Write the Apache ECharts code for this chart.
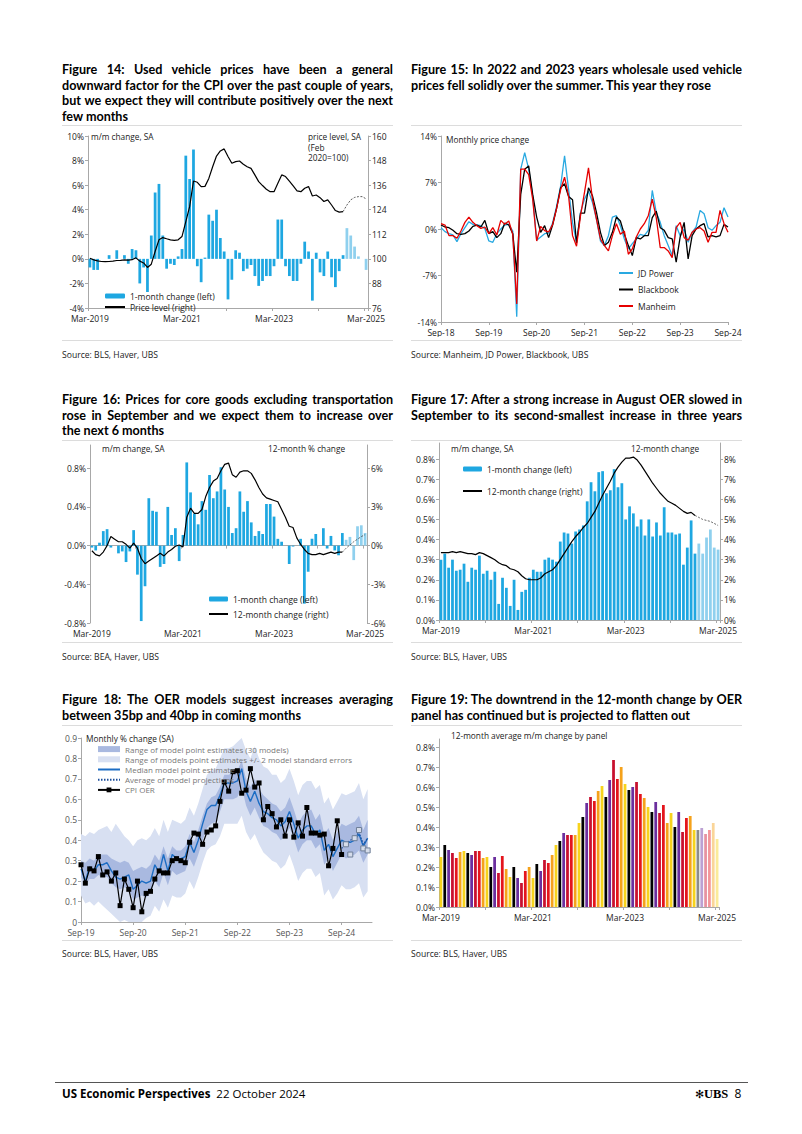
<!DOCTYPE html>
<html><head><meta charset="utf-8">
<script src="https://cdn.jsdelivr.net/npm/echarts@6/dist/echarts.min.js"></script>
<style>
html,body{margin:0;padding:0;background:#fff;}
body{width:802px;height:1134px;position:relative;overflow:hidden;font-family:'Open Sans',sans-serif;color:#000;}
.title{position:absolute;font-family:Lato,'Open Sans',sans-serif;font-weight:700;font-size:12.6px;line-height:15.6px;width:331px;}
.title div{white-space:nowrap;text-align:justify;text-align-last:justify;}
.title div.last{text-align:left;text-align-last:left;}
.sep{position:absolute;height:1px;background:#dcdcdc;}
.src{position:absolute;font-size:8.6px;color:#222;}
.ch{position:absolute;}
.note{position:absolute;font-size:8.3px;color:#222;line-height:10.5px;white-space:nowrap;}
</style></head>
<body>
<div class="title" style="left:62px;top:62px;"><div>Figure 14: Used vehicle prices have been a general</div><div>downward factor for the CPI over the past couple of years,</div><div>but we expect they will contribute positively over the next</div><div class="last">few months</div></div>
<div class="title" style="left:411px;top:62px;"><div>Figure 15: In 2022 and 2023 years wholesale used vehicle</div><div class="last">prices fell solidly over the summer. This year they rose</div></div>
<div class="sep" style="left:62px;top:125px;width:331px"></div>
<div class="sep" style="left:411px;top:125px;width:331px"></div>
<div class="sep" style="left:62px;top:340px;width:331px"></div>
<div class="sep" style="left:411px;top:340px;width:331px"></div>
<div class="src" style="left:62px;top:349px;">Source: BLS, Haver, UBS</div>
<div class="src" style="left:411px;top:349px;">Source: Manheim, JD Power, Blackbook, UBS</div>

<div class="title" style="left:62px;top:392px;"><div>Figure 16: Prices for core goods excluding transportation</div><div>rose in September and we expect them to increase over</div><div class="last">the next 6 months</div></div>
<div class="title" style="left:411px;top:392px;"><div>Figure 17: After a strong increase in August OER slowed in</div><div>September to its second-smallest increase in three years</div></div>
<div class="sep" style="left:62px;top:440px;width:331px"></div>
<div class="sep" style="left:411px;top:440px;width:331px"></div>
<div class="sep" style="left:62px;top:642px;width:331px"></div>
<div class="sep" style="left:411px;top:642px;width:331px"></div>
<div class="src" style="left:62px;top:651px;">Source: BEA, Haver, UBS</div>
<div class="src" style="left:411px;top:651px;">Source: BLS, Haver, UBS</div>

<div class="title" style="left:62px;top:692px;"><div>Figure 18: The OER models suggest increases averaging</div><div class="last">between 35bp and 40bp in coming months</div></div>
<div class="title" style="left:411px;top:692px;"><div>Figure 19: The downtrend in the 12-month change by OER</div><div class="last">panel has continued but is projected to flatten out</div></div>
<div class="sep" style="left:62px;top:725px;width:331px"></div>
<div class="sep" style="left:411px;top:725px;width:331px"></div>
<div class="sep" style="left:62px;top:940px;width:331px"></div>
<div class="sep" style="left:411px;top:940px;width:331px"></div>
<div class="src" style="left:62px;top:948px;">Source: BLS, Haver, UBS</div>
<div class="src" style="left:411px;top:948px;">Source: BLS, Haver, UBS</div>

<div class="ch" id="c14" style="left:55px;top:127px;width:340px;height:210px"></div>
<div class="ch" id="c15" style="left:408px;top:127px;width:340px;height:210px"></div>
<div class="ch" id="c16" style="left:55px;top:440px;width:340px;height:200px"></div>
<div class="ch" id="c17" style="left:408px;top:440px;width:340px;height:200px"></div>
<div class="ch" id="c18" style="left:55px;top:725px;width:340px;height:215px"></div>
<div class="ch" id="c19" style="left:408px;top:725px;width:340px;height:215px"></div>

<div class="note" style="left:91px;top:132px;">m/m change, SA</div>
<div class="note" style="left:308px;top:132px;">price level, SA<br>(Feb<br>2020=100)</div>
<div class="note" style="left:446px;top:135px;">Monthly price change</div>
<div class="note" style="left:102px;top:444px;">m/m change, SA</div>
<div class="note" style="left:268px;top:444px;">12-month % change</div>
<div class="note" style="left:451px;top:444px;">m/m change, SA</div>
<div class="note" style="left:631px;top:444px;">12-month change</div>
<div class="note" style="left:86px;top:734px;">Monthly % change (SA)</div>
<div class="note" style="left:451px;top:731px;">12-month average m/m change by panel</div>

<div style="position:absolute;left:55px;top:1082px;width:693px;height:1px;background:#555"></div>
<div style="position:absolute;left:62px;top:1086px;font-size:11.5px;white-space:nowrap;"><b>US Economic Perspectives</b>&nbsp;&nbsp;22 October 2024</div>
<div style="position:absolute;left:695px;top:1085px;font-size:12px;white-space:nowrap;"><span style="font-size:11px">&#10043;</span><b style="font-family:'Liberation Serif',serif;font-size:12.5px">UBS</b>&nbsp;&nbsp;8</div>

<script>
// ---------- DATA ----------
// Figure 14: used vehicles CPI, Mar-2019 .. Mar-2025 (last 6 = projection)
const usedMoM = [-0.7,-0.9,-0.9,0.0,0.0,0.3,0.0,0.7,0.0,0.3,
 -0.4,0.8,0.7,-2.0,-0.7,-2.7,1.9,5.4,6.1,1.9,
 -0.8,-0.4,-0.5,0.2,0.8,8.4,6.5,8.9,-0.6,-1.9,
 0.1,3.6,3.1,4.0,1.7,0.6,-3.3,-1.7,0.7,0.5,
 -1.0,-0.8,-0.5,-1.4,-2.2,-1.8,-1.4,-1.4,-0.6,3.2,
 3.2,-0.6,-1.4,-1.8,-1.8,-0.4,1.4,0.6,-3.4,0.5,
 -1.1,-1.4,0.6,-1.5,-2.3,-1.0,0.3,2.5,1.9,1.0,
 0.2,0.0,-0.9];
const usedLevel = [100.3,99.5,99.0,98.7,98.6,98.7,98.9,99.2,99.3,99.5,
 99.4,99.6,100.5,98.9,98.0,95.8,97.4,103.6,109.3,110.4,
 109.8,109.3,109.0,109.3,110.9,118.2,125.5,138.0,137.4,135.3,
 135.4,139.3,145.0,150.2,152.7,153.7,150.0,146.7,147.5,147.8,
 146.2,145.0,144.2,141.0,137.7,135.8,134.0,132.8,132.8,136.9,
 141.0,140.2,138.0,135.6,133.2,132.8,134.5,135.3,130.7,131.2,
 129.9,128.0,128.8,126.3,123.6,122.8,123.1];
const usedLevelProj = [126.3,128.8,130.0,130.4,130.4,129.3];

// Figure 15: wholesale used vehicle prices, Sep-18 .. Sep-24
const jdPower = [0.2,-0.4,-0.7,-0.9,-1.9,-0.7,0.2,1.1,0.7,0.6,
 0.5,0.05,-1.8,-2.0,-0.7,0.0,0.6,0.7,-0.3,-13.2,
 9.0,11.5,9.0,5.0,-1.7,-1.2,-0.7,-0.6,0.9,3.4,
 6.4,11.0,6.0,1.0,-2.0,2.5,4.5,5.7,4.0,1.5,
 -1.8,-2.5,-1.0,1.8,2.0,0.5,-1.5,-3.0,-2.2,-1.5,
 -0.8,-1.0,-0.2,5.8,2.5,1.0,-1.0,-2.5,-4.0,0.5,
 -1.0,0.0,-2.0,-0.5,0.3,2.8,2.3,0.2,-0.2,0.5,
 1.0,3.2,1.8];
const blackbook = [0.6,0.3,0.2,-0.2,-0.7,-0.8,-0.7,-0.3,0.4,0.6,
 0.3,1.3,-0.7,-0.4,-1.3,-0.7,0.9,0.6,-0.7,-6.5,
 5.2,9.0,9.5,5.2,1.8,-0.5,0.5,-1.3,0.6,3.1,
 6.2,6.8,4.9,4.4,-2.1,2.4,2.4,6.2,5.0,2.5,
 -0.5,-2.5,-2.0,-0.5,1.8,1.2,-0.8,-2.5,-4.0,-1.3,
 -1.5,-1.0,-1.0,1.7,2.7,0.2,-0.2,-1.3,-1.5,-5.0,
 -1.2,1.0,-4.5,-1.0,0.0,0.5,0.8,-1.2,-1.0,-1.2,
 -1.0,0.7,0.3];
const manheim = [0.8,0.6,-1.0,-1.0,-1.4,-0.3,1.0,1.8,1.0,0.5,
 0.1,0.3,-0.7,0.2,-0.9,1.3,0.7,1.2,-0.8,-11.3,
 9.0,9.0,8.2,4.5,-1.8,0.4,-0.25,-0.45,0.65,3.1,
 5.9,7.8,5.0,-1.0,-2.6,2.0,5.5,9.2,4.5,1.5,
 -1.5,-2.5,-3.3,-1.0,0.8,-0.8,-0.3,-3.8,-3.0,-1.2,
 0.0,0.8,2.0,4.5,1.7,-2.8,-2.8,-3.3,-4.3,0.2,
 1.0,-1.3,-1.7,-0.5,0.0,0.2,-0.3,-2.0,-0.5,-0.5,
 2.8,0.8,-0.5];

// Figure 16: core goods ex transportation, Mar-2019 .. Mar-2025
const coreGoodsMoM = [-0.02,-0.05,0.03,0.15,0.17,-0.02,0.0,-0.08,-0.06,-0.17,
 -0.06,0.16,-0.30,-0.78,-0.42,0.49,0.36,0.35,-0.22,-0.19,
 0.40,0.11,0.18,-0.16,0.11,0.86,0.55,0.33,0.22,0.46,
 0.37,0.73,0.49,0.56,0.81,0.58,0.40,0.13,0.18,0.56,
 0.35,0.46,0.24,0.10,0.15,0.12,0.43,0.43,0.30,0.07,
 0.04,0.0,-0.19,-0.01,0.0,0.07,-0.60,-0.27,0.07,0.12,
 0.0,0.18,-0.03,0.10,-0.05,-0.10,0.13,0.06,0.09,-0.15,
 0.20,0.21,0.13];
const coreGoods12m = [-0.4,-0.7,-0.8,-0.5,0.0,0.7,0.5,0.3,0.3,0.1,
 -0.2,0.2,-0.2,-1.0,-1.4,-1.2,-1.0,-0.8,-0.6,-0.8,
 -0.5,-0.3,-0.05,0.05,-0.1,2.2,2.9,2.5,2.5,2.8,
 3.8,4.5,5.0,5.2,5.8,6.3,6.4,5.5,5.3,5.7,
 5.8,5.8,5.6,5.1,4.5,4.0,3.7,3.6,3.5,3.4,
 2.8,2.2,1.5,1.4,0.6,0.1,-0.3,-0.6,-0.7,-0.7,
 -0.6,-0.7,-0.6,-0.5,-0.6,-0.5,-0.5];
const coreGoods12mProj = [-0.2,0.05,0.3,0.5,0.7,0.85];

// Figure 17 / 18: CPI OER m/m, Mar-2019 .. Mar-2025 (last 6 = projection)
const oerMoM = [0.30,0.33,0.26,0.30,0.245,0.25,0.28,0.19,0.26,0.25,
 0.32,0.23,0.245,0.20,0.24,0.08,0.21,0.16,0.07,0.20,
 0.05,0.14,0.15,0.21,0.25,0.24,0.24,0.30,0.31,0.30,
 0.29,0.39,0.435,0.43,0.38,0.44,0.45,0.47,0.59,0.685,
 0.64,0.735,0.74,0.63,0.645,0.75,0.66,0.68,0.50,0.565,
 0.53,0.465,0.50,0.42,0.50,0.415,0.485,0.42,0.56,0.435,
 0.435,0.425,0.43,0.275,0.36,0.495,0.33,0.38,0.33,0.41,
 0.45,0.36,0.35];
const oer12m = [3.35,3.35,3.35,3.4,3.35,3.4,3.35,3.3,3.3,3.25,
 3.35,3.3,3.2,3.1,3.0,2.85,2.75,2.7,2.55,2.5,
 2.4,2.2,2.05,2.0,2.0,2.0,2.1,2.3,2.4,2.5,
 2.7,3.0,3.3,3.6,3.9,4.15,4.35,4.6,4.8,5.1,
 5.4,5.8,6.2,6.55,6.9,7.3,7.6,7.85,8.05,8.05,
 8.1,7.95,7.7,7.4,7.1,6.8,6.55,6.3,6.1,5.9,
 5.8,5.7,5.55,5.4,5.3,5.35,5.2];
const oer12mProj = [5.1,5.0,4.95,4.9,4.8,4.7];

// Figure 18: OER models, Sep-19 .. Mar-25
const modelMedian = [0.26,0.20,0.27,0.25,0.28,0.28,0.29,0.25,0.22,0.21,
 0.22,0.23,0.16,0.18,0.20,0.19,0.20,0.28,0.24,0.33,
 0.25,0.33,0.31,0.31,0.32,0.39,0.34,0.40,0.48,0.55,
 0.57,0.57,0.62,0.68,0.68,0.68,0.69,0.75,0.64,0.59,
 0.64,0.58,0.54,0.53,0.51,0.50,0.47,0.49,0.54,0.48,
 0.41,0.45,0.47,0.47,0.43,0.45,0.35,0.38,0.32,0.36,
 0.40,0.39,0.39,0.40,0.43,0.37,0.41];
const modelAvgProj = [0.36,0.38,0.40,0.41,0.44,0.38,0.41]; // Sep-24 .. Mar-25
const rangeHigh = [0.30,0.29,0.31,0.30,0.33,0.33,0.33,0.31,0.30,0.29,
 0.30,0.29,0.25,0.26,0.27,0.26,0.28,0.33,0.30,0.37,
 0.31,0.37,0.35,0.35,0.37,0.43,0.39,0.45,0.52,0.58,
 0.61,0.62,0.66,0.72,0.72,0.73,0.74,0.79,0.70,0.66,
 0.70,0.65,0.62,0.60,0.58,0.57,0.54,0.56,0.61,0.55,
 0.48,0.52,0.54,0.55,0.50,0.53,0.43,0.46,0.40,0.44,
 0.48,0.47,0.48,0.49,0.52,0.45,0.50];
const rangeLow = [0.22,0.18,0.21,0.21,0.23,0.22,0.22,0.19,0.17,0.16,
 0.17,0.16,0.11,0.12,0.13,0.12,0.14,0.20,0.17,0.24,
 0.18,0.25,0.23,0.24,0.25,0.31,0.27,0.33,0.40,0.46,
 0.48,0.49,0.54,0.60,0.60,0.60,0.61,0.66,0.57,0.52,
 0.56,0.51,0.47,0.46,0.44,0.43,0.40,0.42,0.46,0.41,
 0.34,0.38,0.40,0.40,0.36,0.38,0.28,0.31,0.25,0.29,
 0.33,0.31,0.32,0.33,0.35,0.29,0.33];
const seHigh = [0.43,0.42,0.44,0.43,0.45,0.46,0.47,0.44,0.48,0.45,
 0.42,0.40,0.37,0.40,0.41,0.40,0.42,0.46,0.42,0.50,
 0.44,0.50,0.49,0.48,0.50,0.56,0.52,0.58,0.65,0.72,
 0.74,0.75,0.80,0.85,0.85,0.86,0.88,0.90,0.84,0.80,
 0.86,0.80,0.76,0.75,0.72,0.72,0.68,0.70,0.75,0.69,
 0.62,0.67,0.69,0.69,0.65,0.67,0.58,0.61,0.55,0.59,
 0.63,0.62,0.63,0.64,0.68,0.60,0.65];
const seLow = [0.13,0.09,0.10,0.08,0.10,0.08,0.06,0.04,0.02,0.00,
 0.01,0.00,0.00,0.00,0.00,0.02,0.03,0.08,0.05,0.11,
 0.07,0.13,0.12,0.12,0.14,0.20,0.16,0.22,0.29,0.35,
 0.37,0.38,0.42,0.48,0.48,0.48,0.48,0.52,0.44,0.40,
 0.43,0.38,0.34,0.32,0.30,0.29,0.26,0.28,0.33,0.27,
 0.20,0.24,0.26,0.26,0.22,0.24,0.13,0.16,0.11,0.14,
 0.18,0.16,0.16,0.17,0.19,0.12,0.15];

// Figure 19: 12-month average m/m change by panel, Mar-2019 .. Mar-2025
const panelAvg = [0.25,0.31,0.285,0.27,0.245,0.275,0.28,0.27,0.26,0.28,
 0.28,0.245,0.25,0.20,0.25,0.17,0.255,0.19,0.15,0.20,
 0.145,0.12,0.18,0.20,0.145,0.215,0.18,0.235,0.22,0.26,
 0.31,0.33,0.37,0.36,0.36,0.36,0.42,0.45,0.52,0.55,
 0.53,0.58,0.605,0.55,0.635,0.735,0.64,0.70,0.615,0.585,
 0.60,0.625,0.565,0.545,0.50,0.475,0.525,0.47,0.51,0.42,
 0.47,0.40,0.475,0.375,0.445,0.455,0.385,0.385,0.395,0.365,
 0.385,0.42,0.34];
const panelColors = ['#f7d31c','#000000','#6b2f9e','#c8102e','#e4151c','#f5a21b'];

// ---------- HELPERS ----------
const MON = ['Jan','Feb','Mar','Apr','May','Jun','Jul','Aug','Sep','Oct','Nov','Dec'];
function months(y, m, n, short){
  const out=[]; for(let k=0;k<n;k++){const t=m+k; out.push(MON[t%12]+'-'+(short?String(y+Math.floor(t/12)).slice(2):(y+Math.floor(t/12))));} return out;
}
const FF = "'Open Sans', sans-serif";
const GREY = '#a8a8a8';
const BLUE = '#1ea7e1', LBLUE = '#8fd0ee';
const lab = (extra)=>Object.assign({fontSize:8.5,color:'#222',fontFamily:FF,margin:4},extra||{});
const pct1 = v=>v.toFixed(1)+'%';
const pct0 = v=>Math.round(v)+'%';
function mk(id){ return echarts.init(document.getElementById(id), null, {renderer:'svg'}); }
function padNull(n){ return new Array(n).fill(null); }
function xAxes(cats, labelInterval, tickInterval, boundaryGap){
  return [
    {type:'category',data:cats,boundaryGap:boundaryGap,axisLine:{show:false},axisTick:{show:false},
     axisLabel:lab({interval:labelInterval,margin:6,showMaxLabel:true})},
    {type:'category',data:cats,boundaryGap:boundaryGap,position:'bottom',
     axisLine:{show:true,onZero:true,lineStyle:{color:GREY,width:1}},
     axisTick:{show:true,interval:tickInterval,length:3,lineStyle:{color:GREY}},axisLabel:{show:false}}
  ];
}
function yAx(min,max,interval,fmt,pos,extra){
  return Object.assign({type:'value',min:min,max:max,interval:interval,position:pos,
    axisLine:{show:true,lineStyle:{color:GREY}},axisTick:{show:true,length:3,lineStyle:{color:GREY}},
    splitLine:{show:false},axisLabel:lab({formatter:fmt,showMaxLabel:true})},extra||{});
}
const legText = {fontSize:8.5,color:'#222',fontFamily:FF,lineHeight:11};
const lineLeg = name => ({name:name,itemStyle:{opacity:0,color:'rgba(0,0,0,0)',borderWidth:0}});

// ---------- FIGURE 14 ----------
(function(){
  const cats = months(2019,2,73,false);
  const nAct = usedLevel.length;
  const bars = usedMoM.map((v,i)=> i>=nAct ? {value:v,itemStyle:{color:LBLUE}} : v);
  const lvl = usedLevel.concat(padNull(usedLevelProj.length));
  const proj = padNull(nAct-1).concat([usedLevel[nAct-1]]).concat(usedLevelProj);
  mk('c14').setOption({
    animation:false,
    grid:{left:33,top:9,width:280,height:172},
    xAxis:xAxes(cats,23,11,true),
    yAxis:[yAx(-4,10,2,v=>v+'%','left'), yAx(76,160,12,v=>String(v),'right')],
    legend:{left:49,top:163.5,padding:0,orient:'vertical',itemWidth:20,itemHeight:5,itemGap:0,textStyle:legText,
      data:['1-month change (left)',lineLeg('Price level (right)')]},
    series:[
      {name:'1-month change (left)',type:'bar',data:bars,barWidth:'72%',itemStyle:{color:BLUE}},
      {name:'Price level (right)',type:'line',yAxisIndex:1,data:lvl,symbol:'none',lineStyle:{color:'#000',width:1.2},itemStyle:{color:'#000'}},
      {name:'proj',type:'line',yAxisIndex:1,data:proj,symbol:'none',lineStyle:{color:'#333',width:0.8,type:[2,1.5]}}
    ]
  });
})();

// ---------- FIGURE 15 ----------
(function(){
  const cats = months(2018,8,73,true);
  const ln = (name,data,color)=>({name:name,type:'line',data:data,symbol:'none',
    lineStyle:{color:color,width:1.3},itemStyle:{color:color}});
  mk('c15').setOption({
    animation:false,
    grid:{left:33,top:9,width:287,height:186},
    xAxis:xAxes(cats,11,11,false),
    yAxis:[yAx(-14,14,7,v=>v+'%','left')],
    legend:{left:210,top:140.5,padding:0,orient:'vertical',itemWidth:14,itemHeight:4,itemGap:5.5,textStyle:legText,
      data:[lineLeg('JD Power'),lineLeg('Blackbook'),lineLeg('Manheim')]},
    series:[ln('JD Power',jdPower,'#29a9e1'), ln('Blackbook',blackbook,'#000'), ln('Manheim',manheim,'#e60000')]
  });
})();

// ---------- FIGURE 16 ----------
(function(){
  const cats = months(2019,2,73,false);
  const nAct = coreGoods12m.length;
  const bars = coreGoodsMoM.map((v,i)=> i>=nAct ? {value:v,itemStyle:{color:LBLUE}} : v);
  const l12 = coreGoods12m.concat(padNull(coreGoods12mProj.length));
  const proj = padNull(nAct-1).concat([coreGoods12m[nAct-1]]).concat(coreGoods12mProj);
  mk('c16').setOption({
    animation:false,
    grid:{left:35,top:5,width:277,height:178},
    xAxis:xAxes(cats,23,11,true),
    yAxis:[yAx(-0.8,1.04,0.4,pct1,'left',{axisLabel:lab({formatter:pct1,showMaxLabel:false})}),
           yAx(-6,7.8,3,v=>v+'%','right',{axisLabel:lab({formatter:v=>v+'%',showMaxLabel:false})})],
    legend:{left:153,top:153.5,padding:0,orient:'vertical',itemWidth:19,itemHeight:5,itemGap:4,textStyle:legText,
      data:['1-month change (left)',lineLeg('12-month change (right)')]},
    series:[
      {name:'1-month change (left)',type:'bar',data:bars,barWidth:'72%',itemStyle:{color:BLUE}},
      {name:'12-month change (right)',type:'line',yAxisIndex:1,data:l12,symbol:'none',lineStyle:{color:'#000',width:1.2},itemStyle:{color:'#000'}},
      {name:'proj',type:'line',yAxisIndex:1,data:proj,symbol:'none',lineStyle:{color:'#444',width:0.8,type:[2,1.5]}}
    ]
  });
})();

// ---------- FIGURE 17 ----------
(function(){
  const cats = months(2019,2,73,false);
  const nAct = oer12m.length;
  const bars = oerMoM.map((v,i)=> i>=nAct ? {value:v,itemStyle:{color:LBLUE}} : v);
  const l12 = oer12m.concat(padNull(oer12mProj.length));
  const proj = padNull(nAct-1).concat([oer12m[nAct-1]]).concat(oer12mProj);
  mk('c17').setOption({
    animation:false,
    grid:{left:31,top:3,width:281,height:177},
    xAxis:xAxes(cats,23,11,true),
    yAxis:[yAx(0,0.88,0.1,pct1,'left',{axisLabel:lab({formatter:pct1,showMaxLabel:false})}),
           yAx(0,8.8,1,pct0,'right',{axisLabel:lab({formatter:pct0,showMaxLabel:false})})],
    legend:{left:54,top:23.5,padding:0,orient:'vertical',itemWidth:19,itemHeight:5,itemGap:11,textStyle:legText,
      data:['1-month change (left)',lineLeg('12-month change (right)')]},
    series:[
      {name:'1-month change (left)',type:'bar',data:bars,barWidth:'72%',itemStyle:{color:BLUE}},
      {name:'12-month change (right)',type:'line',yAxisIndex:1,data:l12,symbol:'none',lineStyle:{color:'#000',width:1.2},itemStyle:{color:'#000'}},
      {name:'proj',type:'line',yAxisIndex:1,data:proj,symbol:'none',lineStyle:{color:'#444',width:0.8,type:[2,1.5]}}
    ]
  });
})();

// ---------- FIGURE 18 ----------
(function(){
  const cats = months(2019,8,68,true);
  const oer = oerMoM.slice(6);            // Sep-19 .. Mar-25
  const nAct = 61;                         // Sep-19 .. Sep-24 actual
  const oerAct = oer.slice(0,nAct);
  const oerProj = padNull(nAct).concat(oer.slice(nAct));
  const avgProj = padNull(nAct-1).concat(modelAvgProj);
  const seDiff = seHigh.map((v,i)=>+(v-seLow[i]).toFixed(3));
  const rDiff = rangeHigh.map((v,i)=>+(v-rangeLow[i]).toFixed(3));
  const N1='Range of model point estimates (30 models)';
  const N2='Range of models point estimates +/- 2 model standard errors';
  const N3='Median model point estimate';
  const N4='Average of model projections';
  const N5='CPI OER';
  const hid = {type:'line',symbol:'none',lineStyle:{opacity:0},silent:true};
  mk('c18').setOption({
    animation:false,
    grid:{left:26,top:13,width:291,height:184},
    xAxis:[{type:'category',data:cats,boundaryGap:false,
      axisLine:{show:true,lineStyle:{color:GREY}},axisTick:{show:true,interval:11,length:3,lineStyle:{color:GREY}},
      axisLabel:lab({interval:11,margin:6,color:'#555'})}],
    yAxis:[yAx(0,0.9,0.1,v=>String(+v.toFixed(1)),'left',{axisLabel:lab({color:'#555',formatter:v=>String(+v.toFixed(1))})})],
    legend:{left:42,top:19,padding:0,orient:'vertical',itemWidth:22,itemHeight:6,itemGap:0,
      textStyle:{fontSize:8,color:'#777',fontFamily:FF,lineHeight:10.2},
      data:[{name:N1,icon:'rect',itemStyle:{color:'#a9b9e0'}},{name:N2,icon:'rect',itemStyle:{color:'#d8e0f2'}},lineLeg(N3),lineLeg(N4),N5]},
    series:[
      Object.assign({name:'seLow',data:seLow,stack:'se'},hid),
      {name:N2,type:'line',data:seDiff,stack:'se',symbol:'none',lineStyle:{opacity:0},areaStyle:{color:'#d8e0f2',opacity:1},itemStyle:{color:'#d8e0f2'}},
      Object.assign({name:'rLow',data:rangeLow,stack:'r'},hid),
      {name:N1,type:'line',data:rDiff,stack:'r',symbol:'none',lineStyle:{opacity:0},areaStyle:{color:'#a9b9e0',opacity:1},itemStyle:{color:'#a9b9e0'}},
      {name:N3,type:'line',data:modelMedian,symbol:'none',lineStyle:{color:'#1c6dc4',width:1.4},itemStyle:{color:'#1c6dc4'}},
      {name:N4,type:'line',data:avgProj,symbol:'none',lineStyle:{color:'#1c4f9c',width:1.2,type:[1.5,1.5]},itemStyle:{color:'#1c4f9c'}},
      {name:N5,type:'line',data:oerAct,symbol:'rect',symbolSize:5,showSymbol:true,showAllSymbol:true,lineStyle:{color:'#000',width:1.2},itemStyle:{color:'#000'}},
      {name:'CPI OER proj',type:'line',data:oerProj,symbol:'rect',symbolSize:5,showSymbol:true,showAllSymbol:true,lineStyle:{opacity:0},
        itemStyle:{color:'#d5dcea',borderColor:'#6f7f98',borderWidth:1}}
    ]
  });
})();

// ---------- FIGURE 19 ----------
(function(){
  const cats = months(2019,2,73,false);
  const nAct = 67;
  const bars = panelAvg.map((v,i)=>({value:v,itemStyle:{color:panelColors[i%6],opacity:i>=nAct?0.45:1}}));
  mk('c19').setOption({
    animation:false,
    grid:{left:31,top:14,width:280,height:168},
    xAxis:[{type:'category',data:cats,axisLine:{show:true,lineStyle:{color:GREY}},
      axisTick:{show:true,interval:11,length:3,lineStyle:{color:GREY}},axisLabel:lab({interval:23,margin:6})}],
    yAxis:[yAx(0,0.84,0.1,pct1,'left',{axisLabel:lab({formatter:pct1,showMaxLabel:false})})],
    series:[{type:'bar',data:bars,barWidth:'72%'}]
  });
})();
</script>
</body></html>
